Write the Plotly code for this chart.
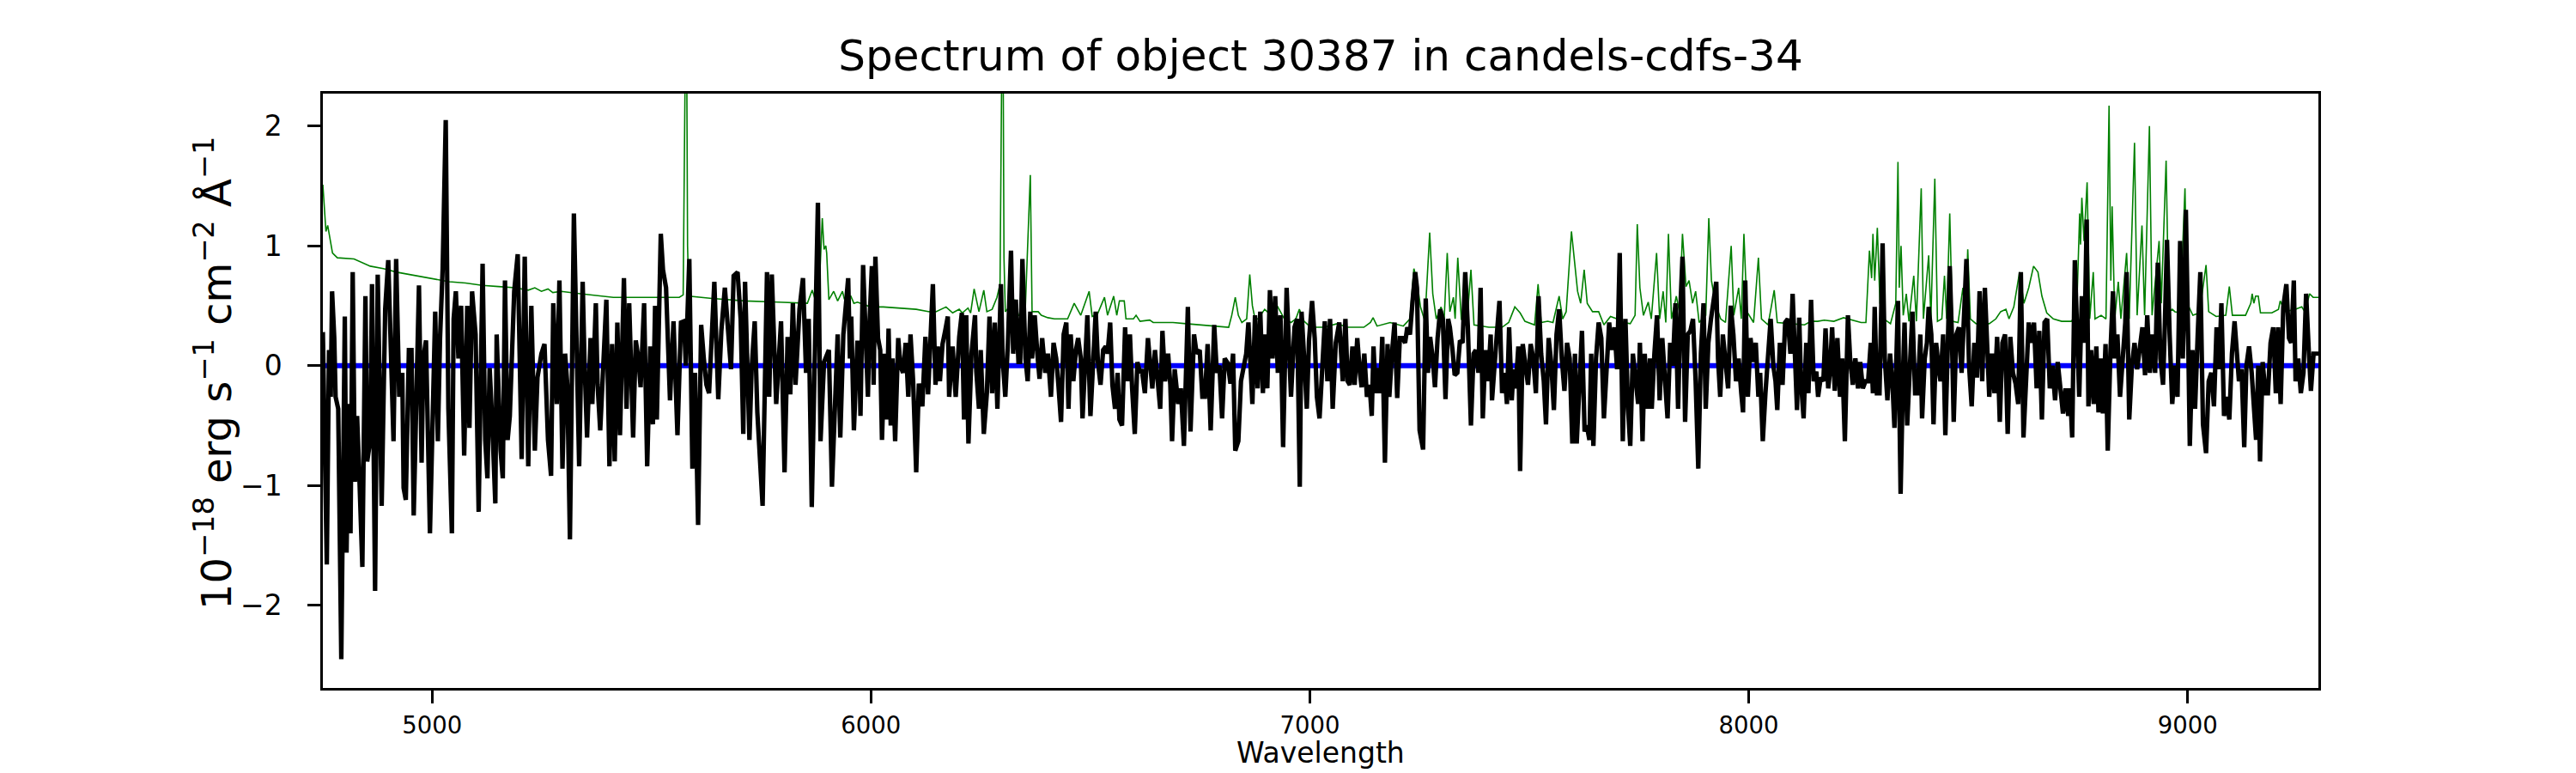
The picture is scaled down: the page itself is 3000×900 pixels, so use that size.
import plotly.graph_objects as go

# ---------------- data ----------------
spec_wave = [
    4751, 4760, 4765, 4769, 4772, 4777, 4780, 4786, 4793, 4801,
    4805, 4810, 4814, 4819, 4824, 4829, 4834, 4841, 4848, 4852,
    4859, 4863, 4870, 4876, 4885, 4893, 4900, 4906, 4912, 4918,
    4925, 4932, 4935, 4940, 4947, 4953, 4958, 4970, 4976, 4980,
    4986, 4995, 5007, 5013, 5018, 5024, 5031, 5037, 5045, 5049,
    5054, 5060, 5066, 5073, 5080, 5085, 5091, 5099, 5106, 5115,
    5121, 5126, 5131, 5136, 5144, 5147, 5156, 5161, 5166, 5172,
    5177, 5187, 5195, 5204, 5211, 5219, 5226, 5234, 5240, 5249,
    5256, 5264, 5271, 5276, 5284, 5290, 5297, 5303, 5308, 5314,
    5323, 5335, 5343, 5347, 5353, 5361, 5365, 5373, 5377, 5383,
    5391, 5397, 5404, 5410, 5416, 5422, 5428, 5437, 5443, 5449,
    5458, 5464, 5470, 5475, 5483, 5490, 5497, 5503, 5508, 5512,
    5521, 5526, 5533, 5542, 5550, 5559, 5567, 5574, 5578, 5586,
    5593, 5599, 5606, 5613, 5619, 5625, 5631, 5643, 5652, 5659,
    5667, 5674, 5681, 5687, 5696, 5703, 5709, 5713, 5723, 5728,
    5735, 5741, 5753, 5763, 5768, 5774, 5784, 5795, 5803, 5810,
    5816, 5822, 5828, 5837, 5845, 5852, 5858, 5865, 5872, 5879,
    5885, 5893, 5904, 5911,
    5924, 5930, 5937, 5943, 5948, 5952, 5955, 5961, 5969, 5973,
    5976, 5982, 5988, 5993, 5997, 6002, 6006, 6010, 6016, 6021,
    6025, 6031, 6036, 6040, 6045, 6049, 6055, 6062, 6067, 6073,
    6079, 6085, 6090, 6096, 6103, 6109, 6117, 6124, 6130, 6141,
    6147, 6152, 6157, 6163, 6169, 6175, 6178, 6186, 6193, 6201,
    6207, 6212, 6217, 6222, 6229, 6237, 6240, 6246, 6250, 6257,
    6264, 6270, 6276, 6282, 6288, 6296, 6300, 6306, 6312, 6319,
    6324, 6330, 6336, 6340, 6345, 6352, 6357, 6363, 6367, 6373,
    6379, 6384, 6390, 6397, 6403, 6410, 6416, 6422, 6427, 6433,
    6439, 6445, 6450, 6455, 6461, 6467, 6472, 6478, 6482, 6489,
    6493, 6500, 6506, 6512, 6517, 6523, 6529, 6535, 6539, 6545,
    6550, 6556, 6562, 6566, 6572, 6579, 6584, 6590, 6595, 6601,
    6607, 6613, 6617, 6624, 6631, 6635, 6641, 6647, 6653, 6659,
    6664, 6670, 6677, 6682, 6686, 6692, 6700, 6706, 6713, 6722,
    6728, 6736, 6742, 6749, 6755, 6761, 6767, 6774, 6782, 6788,
    6794, 6800, 6806, 6813, 6819, 6825, 6830, 6837, 6843, 6849,
    6855, 6860, 6864, 6869, 6875, 6881, 6887, 6893, 6897, 6903,
    6909, 6915, 6921, 6927, 6933, 6939, 6947, 6953, 6957, 6965,
    6971, 6977, 6981, 6987, 6993, 6998, 7005, 7011, 7016, 7022,
    7028, 7034, 7040, 7046, 7052, 7059, 7067,
    7075, 7081, 7086, 7091, 7097, 7102, 7108, 7114, 7118, 7124,
    7130, 7136, 7141, 7145, 7150, 7156, 7160, 7165, 7171, 7177,
    7181, 7187, 7193, 7199, 7205, 7211, 7217, 7222, 7228, 7234,
    7240, 7244, 7250, 7258, 7264, 7269, 7274, 7280, 7285, 7291,
    7297, 7303, 7309, 7315, 7319, 7325, 7330, 7336, 7342, 7348,
    7354, 7360, 7367, 7373, 7378, 7384, 7389, 7394, 7400, 7406,
    7412, 7415, 7421, 7426, 7432, 7438, 7444, 7449, 7454, 7460,
    7464, 7469, 7475, 7479, 7485, 7491, 7497, 7503, 7509, 7515,
    7521, 7527, 7533, 7538, 7544, 7550, 7556, 7562, 7568, 7574,
    7580, 7586, 7592, 7598, 7604, 7608, 7614, 7620, 7626, 7631,
    7637, 7641, 7646, 7652, 7658, 7664, 7670, 7676, 7682, 7688,
    7694, 7700, 7706, 7713, 7719, 7725, 7730, 7736, 7742, 7748,
    7752, 7758, 7763, 7769, 7775, 7779, 7785, 7791, 7797, 7803,
    7809, 7815, 7821, 7827, 7833, 7839, 7845, 7849, 7855, 7861,
    7867, 7873, 7879, 7885, 7891, 7897, 7902, 7908, 7914, 7920,
    7926, 7930, 7935, 7941, 7947, 7953, 7959, 7965, 7971, 7977,
    7983, 7987, 7992, 7998, 8004, 8010, 8016, 8022, 8026, 8032,
    8038, 8044, 8050, 8056, 8061, 8065, 8071, 8077, 8083, 8089,
    8095, 8100, 8106, 8110, 8115, 8119, 8125, 8131, 8136, 8142,
    8148, 8154, 8158, 8164, 8170, 8175, 8181, 8185, 8190, 8196,
    8202, 8208, 8213, 8219,
    8226, 8231, 8237, 8243, 8249, 8254, 8260, 8266, 8272, 8278,
    8283, 8287, 8292, 8298, 8305, 8310, 8316, 8322, 8328, 8332,
    8340, 8346, 8352, 8355, 8361, 8367, 8373, 8379, 8385, 8391,
    8395, 8401, 8406, 8410, 8416, 8421, 8427, 8433, 8437, 8443,
    8448, 8454, 8458, 8463, 8467, 8473, 8479, 8485, 8490, 8496,
    8502, 8508, 8514, 8520, 8526, 8532, 8538, 8544, 8548, 8554,
    8560, 8566, 8572, 8578, 8584, 8590, 8596, 8602, 8608, 8614,
    8620, 8626, 8632, 8638, 8644, 8650, 8656, 8662, 8668, 8674,
    8680, 8686, 8692, 8698, 8704, 8710, 8716, 8722, 8728, 8732,
    8737, 8743, 8749, 8753, 8759, 8765, 8770, 8774, 8780, 8786,
    8792, 8797, 8803, 8807, 8813, 8818, 8824, 8830, 8834, 8840,
    8846, 8852, 8858, 8861, 8867, 8873, 8879, 8885, 8891, 8897,
    8903, 8908, 8914, 8920, 8926, 8932, 8938, 8944, 8948, 8953,
    8959, 8965, 8971, 8977, 8983, 8989, 8992, 8996, 9002, 9005,
    9011, 9017, 9023, 9029, 9035, 9042, 9048, 9054, 9060, 9066,
    9072, 9077, 9083, 9089, 9095, 9101, 9107, 9113, 9117, 9123,
    9129, 9134, 9140, 9146, 9152, 9156, 9161, 9165, 9171, 9177,
    9183, 9189, 9195, 9201, 9206, 9212, 9218, 9225, 9231, 9236,
    9242, 9246, 9252, 9258, 9264, 9270, 9276, 9281, 9287, 9298,
]
spec_flux = [
    0.28, -1.66, 0.13, -0.26, 0.62, 0.23, -0.26, -0.36, -2.45, 0.41,
    -1.56, -0.32, -1.40, 0.78, -0.97, -0.42, -0.91, -1.68, 0.58, -0.80,
    -0.62, 0.68, -1.88, 0.76, -1.17, 0.47, 0.88, -0.03, -0.63, 0.89,
    -0.26, -0.06, -1.02, -1.12, 0.13, 0.13, -1.25, 0.67, -0.81, 0.06,
    0.21, -1.40, 0.45, -0.63, 0.23, 0.81, 2.05, -0.36, -1.40, 0.39,
    0.62, 0.06, 0.50, -0.75, 0.50, -0.52, 0.62, 0.26, -1.22, 0.85,
    -0.62, -0.94, -0.02, -0.39, -1.15, 0.26, -0.71, -0.94, 0.71, -0.62,
    -0.42, 0.62, 0.93, -0.78, 0.91, -0.84, 0.50, -0.71, -0.10, 0.10,
    0.18, -0.62, -0.92, 0.52, -0.32, 0.71, -0.86, 0.10, -0.16, -1.45,
    1.27, -0.84, 0.70, 0.06, -0.60, 0.23, -0.32, 0.52, -0.16, -0.54,
    0.06, 0.55, -0.84, 0.18, -0.80, 0.36, -0.58, 0.73, -0.36, 0.52,
    -0.60, 0.21, 0.06, -0.18, 0.52, -0.84, 0.16, -0.49, 0.50, -0.45,
    1.10, 0.80, 0.65, -0.29, 0.37, -0.58, 0.36, 0.37, 0.00, 0.89,
    -0.86, -0.06, -1.33, 0.34, 0.06, -0.16, -0.23, 0.70, -0.28, 0.29,
    0.65, 0.26, -0.03, 0.75, 0.78, 0.39, -0.57, 0.70, -0.62, -0.03,
    0.37, -0.39, -1.17, 0.78, -0.26, 0.76, -0.32, 0.37, -0.89, 0.24,
    -0.24, 0.52, -0.16, 0.47, 0.73, -0.06, 0.39, -1.18, 0.00, 1.36,
    -0.63, 0.03, 0.13, -1.01,
    0.26, -0.60, 0.26, 0.49, 0.73, 0.06, 0.41, -0.54, 0.19, 0.19,
    -0.42, 0.84, 0.23, -0.26, 0.39, 0.83, -0.16, 0.91, 0.23, 0.13,
    -0.62, 0.10, -0.45, 0.31, -0.50, 0.06, -0.63, 0.23, 0.00, -0.06,
    0.19, -0.26, 0.26, -0.13, -0.89, -0.15, -0.34, 0.24, -0.24, 0.68,
    -0.16, 0.16, -0.13, 0.18, 0.29, 0.41, -0.26, 0.16, -0.26, 0.24,
    0.44, -0.45, 0.42, -0.65, 0.10, 0.42, -0.05, -0.36, 0.13, -0.57,
    -0.23, 0.41, -0.23, 0.36, -0.36, 0.68, 0.06, -0.26, 0.19, 0.96,
    0.10, 0.55, 0.03, 0.03, 0.89, 0.06, -0.13, 0.45, 0.06, 0.42,
    0.10, -0.11, 0.23, -0.06, 0.10, -0.26, 0.19, 0.06, -0.16, -0.47,
    0.26, 0.36, -0.36, 0.26, -0.13, 0.13, 0.23, 0.06, -0.44, 0.23,
    0.42, -0.42, 0.05, 0.45, 0.03, -0.16, 0.13, 0.16, 0.10, 0.36,
    -0.16, -0.36, -0.06, -0.45, -0.50, 0.32, -0.13, 0.26, -0.19, -0.57,
    0.03, -0.06, -0.03, -0.23, 0.23, 0.06, -0.19, 0.13, -0.16, -0.36,
    0.29, -0.13, 0.10, -0.16, -0.63, -0.03, -0.32, -0.19, -0.67, 0.49,
    -0.55, 0.26, 0.10, 0.13, -0.26, -0.26, 0.18, -0.54, 0.34, -0.06,
    0.00, -0.44, 0.06, 0.02, -0.15, 0.10, -0.71, -0.63, -0.13, 0.00,
    0.10, 0.36, 0.05, -0.32, 0.42, -0.19, 0.45, -0.23, 0.26, -0.19,
    0.63, 0.06, 0.58, -0.06, 0.42, -0.68, 0.65, 0.10, -0.26, 0.32,
    0.39, -1.01, 0.45, 0.06, -0.36, 0.21, 0.54, 0.23, -0.26, -0.44,
    0.00, 0.37, -0.13, 0.39, -0.36, 0.19, 0.36,
    -0.13, 0.39, -0.13, -0.16, 0.16, -0.16, 0.23, -0.06, -0.18, 0.10,
    -0.26, -0.16, -0.42, 0.16, -0.23, -0.02, -0.23, 0.24, -0.81, 0.18,
    -0.26, 0.10, 0.36, -0.27, 0.23, 0.23, 0.19, 0.32, 0.26, 0.54,
    0.78, 0.65, -0.54, -0.70, 0.56, -0.06, 0.24, 0.06, -0.18, 0.23,
    0.47, 0.39, -0.28, 0.39, 0.32, 0.13, -0.08, -0.06, 0.21, 0.19,
    0.78, 0.32, -0.50, 0.10, 0.13, -0.06, 0.65, -0.44, 0.13, -0.13,
    0.26, -0.29, 0.06, 0.26, 0.54, -0.23, -0.06, -0.32, 0.32, -0.29,
    -0.03, -0.19, 0.16, -0.88, 0.18, 0.00, -0.16, 0.18, 0.06, -0.23,
    0.58, 0.10, -0.13, -0.49, 0.23, 0.02, -0.37, 0.26, 0.47, 0.06,
    -0.21, 0.19, 0.06, -0.65, 0.10, -0.65, -0.24, 0.29, -0.55, -0.50,
    -0.62, 0.10, -0.67, 0.06, 0.36, 0.23, -0.44, 0.06, 0.36, 0.13,
    0.32, -0.03, 0.94, -0.63, 0.39, -0.36, -0.67, 0.10, -0.10, -0.32,
    0.19, -0.63, 0.10, -0.36, 0.06, -0.36, 0.10, 0.42, -0.29, 0.23,
    -0.11, -0.44, 0.19, 0.00, 0.52, -0.36, 0.55, 0.91, -0.47, 0.26,
    0.29, 0.39, -0.13, -0.86, 0.10, 0.52, -0.36, 0.19, 0.39, 0.57,
    0.70, 0.06, -0.26, 0.26, 0.06, -0.19, 0.50, 0.26, -0.13, 0.06,
    -0.23, -0.39, 0.71, -0.26, 0.23, 0.03, 0.19, -0.26, -0.06, -0.63,
    -0.23, 0.06, 0.39, 0.00, -0.13, -0.37, 0.19, -0.16, 0.36, 0.39,
    0.10, 0.60, 0.00, -0.37, 0.40, -0.13, -0.44, 0.19, -0.23, 0.55,
    -0.13, -0.05, -0.26, -0.10, -0.13, 0.31, -0.19, -0.06, 0.32, -0.21,
    0.23, -0.26, 0.06, -0.63,
    0.42, 0.06, -0.16, 0.06, -0.19, 0.03, -0.19, -0.13, -0.13, 0.19,
    -0.23, 0.49, -0.23, -0.23, 1.02, 0.06, -0.29, 0.10, -0.19, -0.52,
    0.54, -1.07, 0.00, 0.36, -0.50, 0.06, 0.45, -0.23, -0.23, 0.26,
    -0.44, 0.06, 0.19, 0.49, 0.26, -0.49, 0.19, -0.03, -0.13, 0.26,
    -0.58, 0.23, 0.83, 0.23, -0.47, 0.26, 0.32, -0.06, 0.39, 0.89,
    0.00, -0.34, 0.19, -0.10, 0.62, -0.13, 0.65, 0.10, -0.26, 0.10,
    -0.23, 0.24, -0.47, 0.19, 0.26, -0.57, 0.24, -0.06, -0.15, -0.32,
    0.78, -0.60, 0.00, 0.36, 0.19, 0.36, -0.19, 0.29, -0.45, 0.36,
    0.39, -0.19, 0.00, -0.29, 0.03, -0.23, -0.40, -0.19, -0.42, -0.19,
    -0.60, 0.88, 0.32, -0.26, 0.58, 0.19, 1.22, -0.34, 0.13, -0.32,
    0.16, -0.39, 0.06, -0.40, 0.18, -0.71, 0.10, 0.62, 0.06, 0.26,
    -0.26, 0.06, 0.36, 0.78, -0.45, 0.00, 0.19, -0.03, 0.19, 0.32,
    -0.08, 0.42, -0.06, 0.26, -0.06, 0.86, 0.06, -0.16, 0.32, 1.05,
    0.26, -0.32, 0.00, -0.26, 1.04, 0.06, 0.49, 1.30, 0.06, -0.67,
    0.13, -0.36, 0.26, 0.78, -0.49, -0.73, -0.13, -0.06, -0.34, 0.32,
    -0.03, 0.52, -0.42, -0.26, -0.45, 0.10, 0.37, 0.06, -0.13, -0.03,
    -0.68, 0.00, 0.16, -0.06, -0.42, -0.62, 0.00, -0.80, 0.03, -0.23,
    -0.23, 0.19, 0.32, -0.23, 0.32, -0.32, 0.49, 0.68, 0.23, 0.19,
    0.71, -0.13, 0.06, -0.23, -0.06, 0.60, 0.13, -0.21, 0.10, 0.10,
]

sky_wave = [
    4751, 4758, 4762, 4773, 4784, 4822, 4859, 4889, 4919, 4964,
    5001, 5039, 5076, 5114, 5151, 5189, 5219, 5234, 5249, 5264,
    5275, 5294, 5338, 5413, 5488, 5563, 5572, 5576, 5579, 5582,
    5585, 5638, 5713, 5788, 5855, 5866, 5872, 5881, 5889, 5893,
    5897, 5899, 5904, 5915, 5924, 5935, 5939, 5954, 5961, 5969,
    5999, 6028, 6066, 6103, 6133, 6148, 6171, 6186, 6201, 6208,
    6221, 6227, 6235, 6246, 6257, 6264, 6276, 6287, 6294, 6297,
    6300, 6303, 6306, 6328, 6336, 6351, 6363, 6367, 6381, 6388,
    6403, 6418, 6448, 6463, 6478, 6497, 6504, 6515, 6532, 6539,
    6553, 6560, 6566, 6577, 6581, 6598, 6604, 6613, 6635, 6643,
    6665, 6688, 6718, 6755, 6792, 6815, 6822, 6830, 6837, 6845,
    6856, 6863, 6869, 6875, 6882, 6897, 6912, 6927, 6942, 6957,
    6968, 6976, 6987, 7002, 7032, 7062, 7086, 7123, 7138, 7144,
    7153, 7183, 7213, 7228, 7237, 7244, 7252, 7262, 7273, 7280,
    7288, 7299, 7306, 7313, 7319, 7327, 7331, 7337, 7345, 7359,
    7367, 7374, 7408, 7438, 7453, 7467, 7479, 7490, 7512, 7520,
    7527, 7542, 7554, 7568, 7576, 7584, 7596, 7602, 7610, 7617,
    7625, 7632, 7644, 7658, 7670, 7685, 7700, 7715, 7730, 7741,
    7746, 7752, 7760, 7771, 7778, 7790, 7797, 7805, 7811, 7817,
    7824, 7835, 7842, 7849, 7857, 7864, 7872, 7879, 7887, 7902,
    7909, 7915, 7924, 7936, 7947, 7960, 7966, 7977, 7983, 7989,
    7996, 8011, 8022, 8029, 8044, 8058, 8065, 8097, 8127, 8142,
    8157, 8172, 8194, 8216, 8226, 8241, 8256, 8267, 8275, 8280,
    8283, 8287, 8293, 8299, 8308, 8323, 8335, 8340, 8343, 8347,
    8352, 8359, 8365, 8376, 8382, 8393, 8398, 8410, 8415, 8424,
    8430, 8440, 8446, 8451, 8458, 8464, 8477, 8488, 8494, 8499,
    8505, 8518, 8548, 8563, 8574, 8586, 8593, 8604, 8617, 8627,
    8638, 8649, 8659, 8668, 8679, 8694, 8713, 8735, 8747, 8754,
    8756, 8759, 8764, 8771, 8777, 8785, 8789, 8803, 8814, 8821,
    8825, 8828, 8834, 8842, 8848, 8861, 8867, 8879, 8885, 8896,
    8902, 8913, 8919, 8935, 8940, 8951, 8957, 8965, 8971, 8983,
    8994, 8999, 9012, 9027, 9042, 9048, 9065, 9087, 9095, 9102,
    9132, 9144, 9147, 9151, 9155, 9161, 9166, 9192, 9207, 9211,
    9222, 9245, 9260, 9267, 9278, 9286, 9298,
]
sky_flux = [
    1.51, 1.12, 1.17, 0.94, 0.90, 0.89, 0.83, 0.81, 0.78, 0.75,
    0.72, 0.70, 0.69, 0.67, 0.66, 0.65, 0.63, 0.65, 0.62, 0.64,
    0.61, 0.62, 0.60, 0.57, 0.57, 0.57, 0.59, 3.50, 3.50, 1.00,
    0.58, 0.56, 0.54, 0.53, 0.52, 0.63, 0.56, 0.56, 1.23, 0.97,
    1.00, 0.94, 0.55, 0.62, 0.54, 0.62, 0.56, 0.58, 0.52, 0.53,
    0.49, 0.49, 0.48, 0.47, 0.45, 0.45, 0.49, 0.44, 0.47, 0.44,
    0.48, 0.44, 0.64, 0.45, 0.63, 0.45, 0.47, 0.57, 0.68, 3.50,
    3.50, 0.90, 0.45, 0.55, 0.42, 0.42, 1.59, 0.45, 0.45, 0.42,
    0.40, 0.39, 0.39, 0.52, 0.42, 0.62, 0.41, 0.42, 0.57, 0.42,
    0.58, 0.42, 0.54, 0.54, 0.39, 0.39, 0.42, 0.37, 0.38, 0.36,
    0.36, 0.36, 0.35, 0.34, 0.33, 0.32, 0.42, 0.57, 0.42, 0.36,
    0.39, 0.76, 0.50, 0.39, 0.39, 0.47, 0.42, 0.49, 0.39, 0.36,
    0.39, 0.47, 0.37, 0.32, 0.32, 0.35, 0.32, 0.32, 0.36, 0.40,
    0.33, 0.36, 0.33, 0.39, 0.81, 0.71, 0.49, 0.37, 1.11, 0.60,
    0.39, 0.49, 0.39, 0.94, 0.45, 0.57, 0.39, 0.90, 0.39, 0.42,
    0.80, 0.34, 0.32, 0.32, 0.36, 0.49, 0.44, 0.37, 0.34, 0.68,
    0.36, 0.37, 0.36, 0.58, 0.39, 0.45, 1.12, 0.92, 0.62, 0.52,
    0.80, 0.52, 0.45, 0.45, 0.34, 0.41, 0.39, 0.36, 0.35, 0.42,
    1.18, 0.65, 0.42, 0.53, 0.39, 0.94, 0.39, 0.62, 0.36, 1.10,
    0.39, 0.58, 0.45, 1.10, 0.66, 0.71, 0.52, 0.62, 0.36, 0.42,
    1.23, 0.71, 0.52, 0.39, 0.36, 1.00, 0.42, 0.65, 0.39, 1.10,
    0.45, 0.36, 0.90, 0.39, 0.34, 0.63, 0.36, 0.35, 0.34, 0.37,
    0.37, 0.38, 0.37, 0.40, 0.39, 0.37, 0.36, 0.36, 0.96, 0.73,
    1.10, 0.71, 1.15, 0.52, 0.39, 0.35, 0.52, 1.70, 0.65, 1.00,
    0.42, 0.60, 0.37, 0.75, 0.37, 1.48, 0.39, 0.92, 0.39, 1.56,
    0.37, 0.39, 0.75, 0.39, 1.27, 0.37, 0.36, 0.65, 0.39, 0.97,
    0.39, 0.35, 0.35, 0.39, 0.45, 0.47, 0.39, 0.49, 0.78, 0.52,
    0.65, 0.83, 0.78, 0.58, 0.44, 0.39, 0.37, 0.37, 0.42, 1.27,
    1.01, 1.40, 1.04, 1.53, 0.39, 0.78, 0.39, 0.42, 0.39, 2.17,
    0.71, 1.33, 0.39, 0.70, 0.39, 0.94, 0.39, 1.86, 0.42, 1.17,
    0.42, 2.00, 0.42, 1.04, 0.52, 1.71, 0.45, 0.47, 0.45, 0.44,
    1.48, 0.52, 0.42, 0.44, 0.84, 0.45, 0.41, 0.42, 0.66, 0.42,
    0.42, 0.52, 0.60, 0.52, 0.58, 0.58, 0.44, 0.44, 0.47, 0.54,
    0.45, 0.47, 0.49, 0.45, 0.60, 0.57, 0.57,
]

continuum_wave = [4751, 9298]
continuum_flux = [0.0, 0.0]

x_range = [4751, 9298]
y_range = [-2.69, 2.27]
x_tick_vals = [5000, 6000, 7000, 8000, 9000]
x_tick_text = ["5000", "6000", "7000", "8000", "9000"]
y_tick_vals = [-2, -1, 0, 1, 2]
y_tick_text = ["\u22122", "\u22121", "0", "1", "2"]

title_text = "Spectrum of object 30387 in candels-cdfs-34"
x_title = "Wavelength"
y_title = "10<sup>\u221218</sup> erg s<sup>\u22121</sup> cm<sup>\u22122</sup> \u00c5<sup>\u22121</sup>"

# ---------------- figure ----------------
n = min(len(spec_wave), len(spec_flux))
m = min(len(sky_wave), len(sky_flux))

FONT = "DejaVu Sans"

fig = go.Figure()
fig.add_trace(go.Scatter(x=sky_wave[:m], y=sky_flux[:m], mode="lines",
                         line=dict(color="#008000", width=1.6), hoverinfo="skip",
                         showlegend=False))
fig.add_trace(go.Scatter(x=continuum_wave, y=continuum_flux, mode="lines",
                         line=dict(color="#0000ff", width=6), hoverinfo="skip",
                         showlegend=False))
fig.add_trace(go.Scatter(x=spec_wave[:n], y=spec_flux[:n], mode="lines",
                         line=dict(color="#000000", width=5.2), hoverinfo="skip",
                         showlegend=False))

axis_common = dict(
    showline=True, linecolor="black", linewidth=3.3, mirror=True,
    ticks="outside", ticklen=14.6, tickwidth=3.3, tickcolor="black",
    showgrid=False, zeroline=False, automargin=False,
)

# The page adds an 8 px body margin, so the figure is offset by 8 px and its
# top/left margins are reduced by 8 px; it then ends at the window's edges.
fig.update_layout(
    width=2984, height=892, autosize=False,
    paper_bgcolor="white", plot_bgcolor="white",
    margin=dict(l=368, r=292, t=101, b=99),
    font=dict(family=FONT, color="black"),
    title=dict(text=title_text, x=0.5, xref="paper", xanchor="center",
               y=1, yref="paper", yanchor="bottom", pad=dict(b=27),
               font=dict(family=FONT, size=50, color="black")),
    xaxis=dict(range=x_range, tickvals=x_tick_vals, ticktext=x_tick_text,
               tickfont=dict(family=FONT, size=27.5, color="black"),
               ticklabelstandoff=2,
               **axis_common),
    yaxis=dict(range=y_range, tickvals=y_tick_vals, ticktext=y_tick_text,
               tickfont=dict(family=FONT, size=33, color="black"),
               ticklabelstandoff=23,
               **axis_common),
)

# axis labels, placed like the reference
fig.add_annotation(text=x_title, xref="paper", yref="paper",
                   x=0.5, y=-0.1084, xanchor="center", yanchor="middle",
                   showarrow=False,
                   font=dict(family=FONT, size=33, color="black"))
fig.add_annotation(text=y_title, xref="paper", yref="paper",
                   x=-0.0547, y=0.53, xanchor="center", yanchor="middle",
                   textangle=-90, showarrow=False,
                   font=dict(family=FONT, size=48, color="black"))

fig.write_html("out.html")
